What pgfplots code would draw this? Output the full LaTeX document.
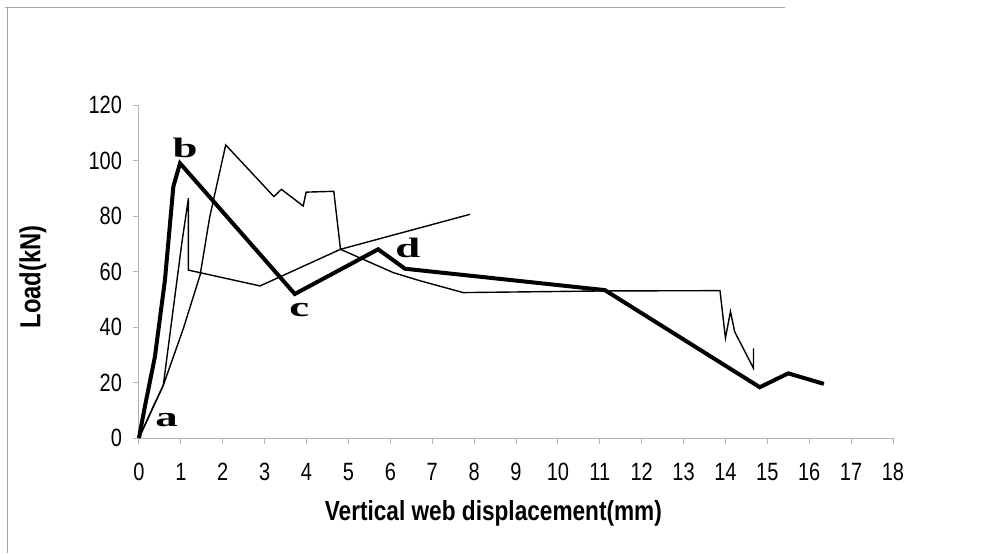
\documentclass[border=0pt]{standalone}
\usepackage{fontspec}
\usepackage{pgfplots}
\pgfplotsset{compat=1.18}
\newfontfamily\narrow[FakeStretch=0.8]{Liberation Sans}
\newfontfamily\narrowb[FakeStretch=0.82]{Liberation Sans Bold}
\newfontfamily\wideserif[FakeStretch=1.6]{Liberation Serif Bold}

\pgfplotstableread{
x y
0 0
0.14 11.3
0.38 29.3
0.62 57
0.82 90.6
0.98 99
3.72 51.9
5.71 68
6.35 61
11.12 53.3
14.82 18.3
15.5 23.3
16.35 19.5
}\thick

\pgfplotstableread{
x y
0 0
0.58 19
1.02 70
1.18 86.4
1.18 60.5
2.89 54.8
4.81 68
7.9 80.6
}\thinA

\pgfplotstableread{
x y
0 0
0.33 11
0.58 19
1.06 39.5
1.46 58.8
1.69 79.8
2.07 105.6
3.22 87
3.4 89.6
3.92 83.6
3.99 88.6
4.65 88.9
4.81 68
6.07 59.6
6.7 56.7
7.74 52.4
11.12 53
13.87 53.1
14.0 36
14.12 45.6
14.22 38.3
14.67 25.1
14.67 32.3
}\thinB

\begin{document}
\begin{tikzpicture}
% page extent (axis origin at 0,0)
\path[use as bounding box] (-69.5pt,-57.5pt) rectangle (423.5pt,219pt);
% outer frame
\draw[gray!70, line width=0.5pt] (-67pt,215.5pt) -- (323pt,215.5pt);
\draw[gray!70, line width=0.5pt] (-65.5pt,215.5pt) -- (-65.5pt,-57.5pt);
\begin{axis}[
  at={(0pt,0pt)}, anchor=origin,
  scale only axis, width=377pt, height=166.5pt,
  xmin=0, xmax=18, ymin=0, ymax=120,
  axis x line=bottom, axis y line=left,
  axis line style={-, gray!60, line width=0.5pt},
  xtick={0,1,...,18}, ytick={0,20,...,120},
  tick align=outside, major tick length=3pt,
  tick style={gray!60, line width=0.5pt},
  /pgf/number format/assume math mode=true,
  ticklabel style={font=\narrow\fontsize{12.5pt}{14pt}\selectfont, text=black},
  xticklabel style={yshift=-6pt},
  yticklabel style={xshift=-2pt},
  xlabel={Vertical web displacement(mm)},
  ylabel={Load(kN)},
  xlabel style={font=\narrowb\fontsize{13.8pt}{16pt}\selectfont, at={(axis description cs:0.47,0)}, anchor=north, yshift=-27.5pt},
  ylabel style={font=\narrowb\fontsize{14.5pt}{16pt}\selectfont, at={(axis description cs:0,0.5)}, anchor=center, yshift=53pt, xshift=-2.75pt},
  clip=false,
]
\addplot[black, line width=0.7pt] table[x=x,y=y] {\thinA};
\addplot[black, line width=0.7pt] table[x=x,y=y] {\thinB};
\addplot[black, line width=2pt, line join=miter] table[x=x,y=y] {\thick};
\node[font=\wideserif\fontsize{14pt}{15pt}\selectfont] at (axis cs:0.66,6.5) {a};
\node[font=\wideserif\fontsize{14pt}{15pt}\selectfont] at (axis cs:1.1,104.5) {b};
\node[font=\wideserif\fontsize{14pt}{15pt}\selectfont] at (axis cs:3.83,46) {c};
\node[font=\wideserif\fontsize{14pt}{15pt}\selectfont] at (axis cs:6.42,68.5) {d};
\end{axis}
\end{tikzpicture}
\end{document}
